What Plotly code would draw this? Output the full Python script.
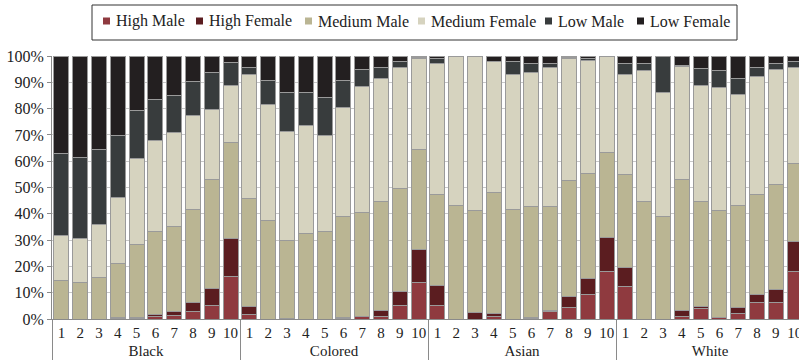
import plotly.graph_objects as go

groups = ["Black", "Colored", "Asian", "White"]
deciles = [str(i) for i in range(1, 11)]

series_names = ["High Male", "High Female", "Medium Male", "Medium Female", "Low Male", "Low Female"]
series_colors = ["#8f3a3f", "#5b1d20", "#bab593", "#d6d3bf", "#383c3d", "#231f20"]

# Cumulative tops (%) of each stacked segment, per group and decile:
# order = High Male, High Female, Medium Male, Medium Female, Low Male (Low Female fills to 100)
black_tops = [
    [0.0, 0.0, 14.6, 31.8, 62.9],
    [0.0, 0.0, 13.7, 30.7, 61.4],
    [0.0, 0.0, 15.8, 36.0, 64.5],
    [0.2, 0.6, 21.2, 46.1, 69.8],
    [0.2, 0.5, 28.5, 60.9, 79.3],
    [0.9, 1.7, 33.3, 67.7, 83.5],
    [1.3, 2.7, 35.2, 70.8, 85.1],
    [2.8, 6.4, 41.7, 77.3, 90.3],
    [5.1, 11.7, 53.2, 79.8, 93.9],
    [16.3, 30.8, 67.2, 88.9, 97.4],
]
colored_tops = [
    [1.7, 4.8, 46.0, 93.0, 95.8],
    [0.0, 0.0, 37.5, 81.6, 90.5],
    [0.0, 0.3, 30.0, 71.4, 86.3],
    [0.0, 0.0, 32.7, 73.6, 86.3],
    [0.0, 0.0, 33.4, 69.6, 84.4],
    [0.2, 0.4, 38.8, 80.4, 90.5],
    [0.9, 0.9, 40.5, 88.4, 94.7],
    [1.1, 3.2, 44.5, 91.5, 95.7],
    [5.3, 10.5, 49.8, 95.7, 98.1],
    [13.7, 26.4, 64.4, 98.9, 99.5],
]
asian_tops = [
    [5.3, 12.7, 47.4, 97.2, 99.1],
    [0.0, 0.0, 43.2, 100.0, 100.0],
    [0.0, 2.5, 41.3, 100.0, 100.0],
    [1.1, 2.2, 48.2, 97.8, 98.0],
    [0.0, 0.0, 41.7, 93.0, 98.0],
    [0.3, 0.5, 42.8, 93.6, 97.0],
    [2.8, 3.2, 42.8, 95.7, 97.2],
    [4.3, 8.5, 52.7, 98.9, 99.5],
    [9.3, 15.4, 55.5, 98.2, 98.9],
    [18.2, 31.1, 63.5, 100.0, 100.0],
]
white_tops = [
    [12.3, 19.7, 55.0, 93.1, 97.0],
    [0.0, 0.0, 44.7, 94.3, 97.0],
    [0.0, 0.0, 39.1, 86.3, 100.0],
    [1.1, 3.3, 52.9, 95.9, 96.3],
    [4.1, 4.8, 44.5, 88.9, 95.4],
    [0.4, 0.6, 41.3, 87.9, 94.3],
    [2.2, 4.3, 43.3, 85.4, 91.6],
    [6.1, 9.5, 47.5, 92.1, 95.8],
    [6.1, 11.2, 51.3, 94.7, 97.3],
    [18.2, 29.6, 59.3, 95.7, 98.1],
]

y_ticks = list(range(0, 101, 10))
y_tick_labels = [f"{v}%" for v in y_ticks]

all_tops = black_tops + colored_tops + asian_tops + white_tops
x_groups = [g for g in groups for _ in deciles]
x_deciles = deciles * len(groups)


def segment_values(k):
    vals = []
    for tops in all_tops:
        full = [0.0] + tops + [100.0]
        vals.append(round(full[k + 1] - full[k], 2))
    return vals


font_family = "Times New Roman, Liberation Serif, DejaVu Serif, serif"
text_color = "#222222"

W, H = 799, 361
M_L, M_R, M_T, M_B = 52, 0, 56, 42
plot_w = W - M_L - M_R
plot_h = H - M_T - M_B


def px_x(px):
    return (px - M_L) / plot_w


def px_y(py):
    return (H - M_B - py) / plot_h


fig = go.Figure()
for k, (name, color) in enumerate(zip(series_names, series_colors)):
    fig.add_trace(go.Bar(
        x=[x_groups, x_deciles],
        y=segment_values(k),
        name=name,
        showlegend=False,
        marker=dict(color=color, line=dict(color="#9a9a9a", width=1)),
    ))

# Boxed legend row across the top
legend_box = dict(x0=92, x1=737, y0=5, y1=40)
legend_entries_x = [103, 196, 305, 418, 545, 637]
swatch = 7
legend_mid = 21

fig.add_shape(
    type="rect", xref="paper", yref="paper",
    x0=px_x(legend_box["x0"]), x1=px_x(legend_box["x1"]),
    y0=px_y(legend_box["y1"]), y1=px_y(legend_box["y0"]),
    line=dict(color="#333333", width=1), fillcolor="white", layer="above",
)
for name, color, ex in zip(series_names, series_colors, legend_entries_x):
    fig.add_shape(
        type="rect", xref="paper", yref="paper",
        x0=px_x(ex), x1=px_x(ex + swatch),
        y0=px_y(legend_mid + swatch / 2), y1=px_y(legend_mid - swatch / 2),
        line=dict(width=0), fillcolor=color, layer="above",
    )
    fig.add_annotation(
        xref="paper", yref="paper",
        x=px_x(ex + swatch + 4), y=px_y(legend_mid),
        xanchor="left", yanchor="middle",
        text=name, showarrow=False,
        font=dict(family=font_family, size=16, color=text_color),
    )

fig.update_layout(
    width=W,
    height=H,
    barmode="stack",
    bargap=0.2,
    plot_bgcolor="white",
    paper_bgcolor="white",
    margin=dict(l=M_L, r=M_R, t=M_T, b=M_B),
    font=dict(family=font_family, size=16, color=text_color),
    showlegend=False,
    xaxis=dict(
        type="multicategory",
        range=[-0.5, 39.23],
        showline=True,
        linecolor="#8a8a8a",
        showdividers=True,
        dividercolor="#8a8a8a",
        dividerwidth=1,
        tickangle=0,
        tickfont=dict(family=font_family, size=15, color=text_color),
        showgrid=False,
        ticks="",
    ),
    yaxis=dict(
        range=[0, 100],
        tickmode="array",
        tickvals=y_ticks,
        ticktext=y_tick_labels,
        showgrid=True,
        gridcolor="#c8c8c8",
        gridwidth=1,
        showline=True,
        linecolor="#8a8a8a",
        ticks="outside",
        ticklen=4,
        tickcolor="#8a8a8a",
        zeroline=False,
        tickfont=dict(family=font_family, size=16, color=text_color),
    ),
)

fig.write_html("out.html")
